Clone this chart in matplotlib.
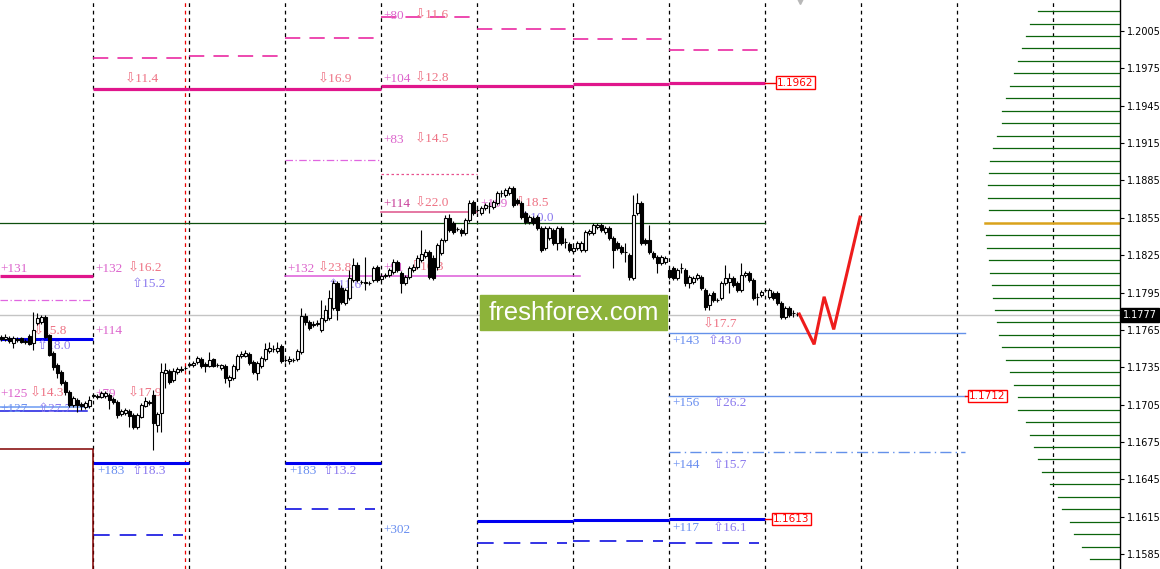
# -*- coding: utf-8 -*-

"""
EURUSD H1 : daily levels, volume profile and a short forecast
"""

#######################################
#               IMPORTS               #
#######################################

import numpy as np
import matplotlib
matplotlib.use('Agg')
import matplotlib.pyplot as plt
from matplotlib.patches import Rectangle

#######################################
#              CONSTANTS              #
#######################################

OUT_FILE = 'out.png'

BARS_PER_DAY = 24
FIRST_DAY_BAR = 23          # bar that opens day 1
N_DAYS = 11
X_MIN, X_MAX = -0.33, 279.67
Y_MIN, Y_MAX = 1.15730, 1.20299

# H1 candles, oldest first (day 0 is cut at the left edge)
OPENS = [
    1.17593, 1.17577, 1.17585, 1.17545, 1.17577, 1.17585, 1.17561, 1.17601, 1.17545, 1.17705, 1.17713, 1.17753,
    1.17609, 1.17464, 1.17368, 1.17312, 1.17231, 1.17151, 1.17047, 1.17087, 1.17055, 1.17031, 1.17039,
    1.17119, 1.17119, 1.17111, 1.17119, 1.17127, 1.17095, 1.17071, 1.16974, 1.16982, 1.16998, 1.16966, 1.16870,
    1.16950, 1.17039, 1.17071, 1.17127, 1.16886, 1.16982, 1.17304, 1.17320, 1.17247, 1.17312, 1.17336, 1.17344,
    1.17368, 1.17368, 1.17392, 1.17416, 1.17376, 1.17360, 1.17416, 1.17368, 1.17344, 1.17360, 1.17247, 1.17263,
    1.17336, 1.17440, 1.17440, 1.17456, 1.17392, 1.17304, 1.17360, 1.17416, 1.17480, 1.17496, 1.17480, 1.17521,
    1.17408, 1.17400, 1.17408, 1.17416, 1.17472, 1.17761, 1.17713, 1.17689, 1.17697, 1.17649, 1.17729, 1.17745,
    1.17825, 1.18026, 1.17986, 1.17866, 1.17906, 1.18050, 1.18171, 1.18034, 1.18026, 1.18026, 1.18050, 1.18155,
    1.18058, 1.18082, 1.18090, 1.18115, 1.18195, 1.18106, 1.18026, 1.18074, 1.18131, 1.18155, 1.18211, 1.18243,
    1.18275, 1.18227, 1.18155, 1.18267, 1.18372, 1.18548, 1.18508, 1.18460, 1.18452, 1.18428, 1.18532, 1.18677,
    1.18612, 1.18588, 1.18628, 1.18644, 1.18636, 1.18669, 1.18749, 1.18733, 1.18749, 1.18789, 1.18693, 1.18669,
    1.18588, 1.18516, 1.18548, 1.18556, 1.18468, 1.18307, 1.18388, 1.18452, 1.18348, 1.18468, 1.18356, 1.18340,
    1.18283, 1.18307, 1.18291, 1.18291, 1.18428, 1.18428, 1.18476, 1.18492, 1.18436, 1.18468, 1.18388, 1.18348,
    1.18315, 1.18275, 1.18251, 1.18066, 1.18588, 1.18669, 1.18372, 1.18372, 1.18267, 1.18235, 1.18187, 1.18195,
    1.18131, 1.18147, 1.18066, 1.18147, 1.18131, 1.18026, 1.18034, 1.18066, 1.18074, 1.17970, 1.17850, 1.17946,
    1.17890, 1.17906, 1.18026, 1.18034, 1.18066, 1.18026, 1.17970, 1.18090, 1.18106, 1.18050, 1.17914, 1.17930,
    1.17970, 1.17914, 1.17946, 1.17946, 1.17866, 1.17753, 1.17825, 1.17785, 1.17777,
]
HIGHS = [
    1.17609, 1.17617, 1.17601, 1.17601, 1.17593, 1.17593, 1.17577, 1.17617, 1.17793, 1.17785, 1.17769, 1.17769,
    1.17617, 1.17480, 1.17384, 1.17328, 1.17247, 1.17167, 1.17119, 1.17103, 1.17071, 1.17079, 1.17119,
    1.17135, 1.17135, 1.17159, 1.17159, 1.17143, 1.17111, 1.17087, 1.17014, 1.17022, 1.17014, 1.16982, 1.16982,
    1.17063, 1.17111, 1.17087, 1.17167, 1.16990, 1.17384, 1.17384, 1.17336, 1.17344, 1.17352, 1.17360, 1.17360,
    1.17392, 1.17400, 1.17440, 1.17432, 1.17392, 1.17472, 1.17424, 1.17384, 1.17376, 1.17376, 1.17288, 1.17376,
    1.17456, 1.17480, 1.17488, 1.17472, 1.17408, 1.17400, 1.17440, 1.17545, 1.17553, 1.17529, 1.17553, 1.17537,
    1.17432, 1.17440, 1.17424, 1.17496, 1.17825, 1.17785, 1.17729, 1.17721, 1.17729, 1.17890, 1.17850, 1.17970,
    1.18050, 1.18042, 1.18010, 1.17986, 1.18131, 1.18227, 1.18195, 1.18050, 1.18235, 1.18042, 1.18163, 1.18171,
    1.18098, 1.18106, 1.18147, 1.18219, 1.18211, 1.18123, 1.18090, 1.18163, 1.18179, 1.18251, 1.18452, 1.18299,
    1.18291, 1.18251, 1.18348, 1.18388, 1.18572, 1.18580, 1.18524, 1.18476, 1.18468, 1.18548, 1.18693, 1.18693,
    1.18636, 1.18644, 1.18669, 1.18677, 1.18693, 1.18765, 1.18773, 1.18789, 1.18805, 1.18805, 1.18709, 1.18685,
    1.18604, 1.18572, 1.18564, 1.18572, 1.18484, 1.18484, 1.18484, 1.18468, 1.18484, 1.18484, 1.18388, 1.18356,
    1.18323, 1.18364, 1.18364, 1.18452, 1.18460, 1.18508, 1.18508, 1.18508, 1.18484, 1.18484, 1.18404, 1.18364,
    1.18332, 1.18348, 1.18267, 1.18733, 1.18749, 1.18685, 1.18388, 1.18492, 1.18283, 1.18251, 1.18251, 1.18243,
    1.18147, 1.18163, 1.18147, 1.18187, 1.18147, 1.18090, 1.18082, 1.18106, 1.18090, 1.17986, 1.17946, 1.17962,
    1.17906, 1.18042, 1.18171, 1.18106, 1.18082, 1.18042, 1.18187, 1.18123, 1.18123, 1.18066, 1.17946, 1.17970,
    1.17986, 1.17986, 1.17962, 1.17962, 1.17882, 1.17842, 1.17842, 1.17809, 1.17793,
]
LOWS = [
    1.17561, 1.17561, 1.17545, 1.17505, 1.17553, 1.17545, 1.17537, 1.17529, 1.17488, 1.17689, 1.17697, 1.17585,
    1.17440, 1.17328, 1.17263, 1.17207, 1.17127, 1.17031, 1.17031, 1.16990, 1.17006, 1.17014, 1.17022,
    1.17103, 1.17095, 1.17103, 1.17103, 1.17014, 1.17055, 1.16942, 1.16958, 1.16966, 1.16870, 1.16854, 1.16854,
    1.16942, 1.17031, 1.17047, 1.16685, 1.16830, 1.16830, 1.17183, 1.17215, 1.17231, 1.17296, 1.17312, 1.17328,
    1.17352, 1.17352, 1.17376, 1.17344, 1.17312, 1.17352, 1.17352, 1.17352, 1.17328, 1.17223, 1.17191, 1.17247,
    1.17320, 1.17424, 1.17432, 1.17368, 1.17296, 1.17247, 1.17344, 1.17400, 1.17464, 1.17472, 1.17464, 1.17384,
    1.17392, 1.17376, 1.17392, 1.17400, 1.17456, 1.17689, 1.17649, 1.17673, 1.17681, 1.17633, 1.17713, 1.17729,
    1.17809, 1.17729, 1.17858, 1.17850, 1.17890, 1.18034, 1.18034, 1.18018, 1.17970, 1.18010, 1.18034, 1.18034,
    1.18042, 1.18066, 1.18074, 1.18098, 1.18115, 1.17946, 1.18010, 1.18058, 1.18115, 1.18139, 1.18195, 1.18227,
    1.18058, 1.18050, 1.18131, 1.18251, 1.18356, 1.18436, 1.18420, 1.18444, 1.18404, 1.18412, 1.18516, 1.18572,
    1.18596, 1.18572, 1.18612, 1.18588, 1.18620, 1.18652, 1.18717, 1.18717, 1.18733, 1.18636, 1.18652, 1.18540,
    1.18500, 1.18500, 1.18492, 1.18452, 1.18275, 1.18291, 1.18372, 1.18332, 1.18291, 1.18332, 1.18307, 1.18275,
    1.18267, 1.18291, 1.18275, 1.18275, 1.18412, 1.18412, 1.18460, 1.18436, 1.18420, 1.18372, 1.18147, 1.18291,
    1.18259, 1.18195, 1.18050, 1.18050, 1.18572, 1.18332, 1.18332, 1.18259, 1.18219, 1.18106, 1.18171, 1.18179,
    1.18058, 1.18050, 1.18050, 1.18106, 1.18002, 1.17986, 1.18018, 1.18050, 1.17970, 1.17809, 1.17809, 1.17874,
    1.17874, 1.17890, 1.18010, 1.17946, 1.17994, 1.17954, 1.17954, 1.18074, 1.18034, 1.17890, 1.17850, 1.17914,
    1.17954, 1.17898, 1.17890, 1.17850, 1.17737, 1.17737, 1.17753, 1.17753, 1.17761,
]
CLOSES = [
    1.17577, 1.17593, 1.17561, 1.17585, 1.17569, 1.17553, 1.17553, 1.17537, 1.17649, 1.17745, 1.17753, 1.17593,
    1.17448, 1.17352, 1.17304, 1.17223, 1.17151, 1.17047, 1.17103, 1.17047, 1.17039, 1.17063, 1.17087,
    1.17127, 1.17111, 1.17143, 1.17143, 1.17087, 1.17071, 1.16966, 1.16998, 1.17006, 1.16958, 1.16870, 1.16966,
    1.17047, 1.17079, 1.17063, 1.16902, 1.16974, 1.17312, 1.17328, 1.17231, 1.17320, 1.17336, 1.17328, 1.17344,
    1.17376, 1.17384, 1.17424, 1.17360, 1.17360, 1.17408, 1.17360, 1.17368, 1.17368, 1.17263, 1.17271, 1.17360,
    1.17440, 1.17456, 1.17464, 1.17384, 1.17312, 1.17384, 1.17424, 1.17496, 1.17505, 1.17496, 1.17505, 1.17400,
    1.17408, 1.17416, 1.17408, 1.17480, 1.17761, 1.17713, 1.17665, 1.17697, 1.17705, 1.17745, 1.17809, 1.17906,
    1.18026, 1.17809, 1.17874, 1.17970, 1.18066, 1.18171, 1.18050, 1.18034, 1.18034, 1.18026, 1.18147, 1.18050,
    1.18082, 1.18090, 1.18131, 1.18195, 1.18131, 1.18026, 1.18074, 1.18147, 1.18155, 1.18227, 1.18259, 1.18275,
    1.18074, 1.18066, 1.18332, 1.18372, 1.18548, 1.18452, 1.18436, 1.18460, 1.18428, 1.18532, 1.18669, 1.18588,
    1.18612, 1.18628, 1.18652, 1.18644, 1.18677, 1.18749, 1.18749, 1.18773, 1.18789, 1.18652, 1.18669, 1.18556,
    1.18516, 1.18556, 1.18508, 1.18468, 1.18291, 1.18468, 1.18468, 1.18348, 1.18468, 1.18348, 1.18356, 1.18291,
    1.18307, 1.18348, 1.18348, 1.18436, 1.18444, 1.18492, 1.18492, 1.18452, 1.18468, 1.18388, 1.18291, 1.18307,
    1.18275, 1.18275, 1.18074, 1.18572, 1.18669, 1.18348, 1.18348, 1.18275, 1.18235, 1.18187, 1.18235, 1.18227,
    1.18074, 1.18066, 1.18131, 1.18147, 1.18026, 1.18074, 1.18066, 1.18090, 1.17986, 1.17834, 1.17930, 1.17890,
    1.17890, 1.18026, 1.18066, 1.18066, 1.18010, 1.17970, 1.18090, 1.18106, 1.18050, 1.17906, 1.17914, 1.17954,
    1.17970, 1.17970, 1.17906, 1.17866, 1.17753, 1.17825, 1.17769, 1.17785, 1.17777,
]
LAST_PRICE = 1.1777

# forecast zigzag drawn after the last candle
FORECAST_BARS = [199.5, 203.2, 205.7, 208.1, 214.7]
FORECAST_PRICES = [1.17777, 1.17534, 1.17916, 1.17654, 1.18556]

# daily levels : day index -> price
MAIN_DAYS = [0, 1, 2, 3, 4, 5, 6, 7]
MAIN_LEVEL = [1.18083, 1.19584, 1.19584, 1.19584, 1.19611, 1.19611, 1.19624, 1.19635]
UPPER_DAYS = [1, 2, 3, 4, 5, 6, 7]
UPPER_LEVEL = [1.19831, 1.19847, 1.19991, 1.20162, 1.20066, 1.19983, 1.19895]
SUPPORT_DAYS = [0, 1, 3, 5, 6, 7]
SUPPORT_LEVEL = [1.17577, 1.16581, 1.16581, 1.16115, 1.16123, 1.16130]
LOWER_DAYS = [1, 3, 5, 6, 7]
LOWER_LEVEL = [1.16003, 1.16212, 1.15935, 1.15955, 1.15937]

# single levels : (first bar, last bar, price)
PIVOT_LINE = (-0.33, 191, 1.18506)
WEEK_DASHDOT = [(-0.33, 23, 1.17890), (71, 95, 1.19012)]
WEEK_DOTTED = (95, 119, 1.18902)
VIOLET_LINE = (71, 144.7, 1.18080)
PINK_LINE = (95, 119, 1.18594)
OLD_BLUE = [(-0.33, 22, 1.17031), (-0.33, 21.5, 1.16996)]
DARK_RED_LEVEL = 1.16694
TARGET_LINES = [1.17625, 1.17120]
TARGET_DASHDOT = 1.16667

# price tags at the right end of some levels
TAGS = ['1.1962', '1.1712', '1.1613']
TAG_PRICES = [1.19635, 1.17120, 1.16130]
TAG_FROM = [191, 240.9, 191]
TAG_BARS = [193.7, 241.7, 192.7]

# volume profile
VP_PRICES = [
    1.2021, 1.2011, 1.2001, 1.1991, 1.1981, 1.1971, 1.1961, 1.1951, 1.1941, 1.1931, 1.1921, 1.1911,
    1.1901, 1.1891, 1.1881, 1.1871, 1.1861, 1.1851, 1.1841, 1.1831, 1.1821, 1.1811, 1.1801, 1.1791,
    1.1781, 1.1771, 1.1761, 1.1751, 1.1741, 1.1731, 1.1721, 1.1711, 1.1701, 1.1691, 1.1681, 1.1671,
    1.1661, 1.1651, 1.1641, 1.1631, 1.1621, 1.1611, 1.1601, 1.1591, 1.1581,
]
VP_VOLUME = [
    82, 90, 94, 98, 102, 106, 110, 114, 118, 118, 123, 127,
    130, 131, 132, 132, 131, 135, 134, 133, 131, 130, 128, 127,
    125, 123, 121, 118, 114, 110, 106, 102, 102, 94, 90, 86,
    82, 78, 70, 62, 58, 50, 46, 38, 30,
]
VP_POC = 1.1851

PRICE_TICKS = [1.2005, 1.1975, 1.1945, 1.1915, 1.1885, 1.1855, 1.1825, 1.1795,
               1.1765, 1.1735, 1.1705, 1.1675, 1.1645, 1.1615, 1.1585]

NUM_PINK = '#dc64cc'
NUM_BLUE = '#6a8ff0'
DOWN_COL = '#ee7284'
UP_COL = '#8a78ee'

# level labels : (bar, price, text, colour)
LABELS = [
    (-0.3, 1.18139, '+131', NUM_PINK),
    (7.9, 1.17633, '\u21e915.8', DOWN_COL),
    (8.9, 1.17521, '\u21e718.0', UP_COL),
    (-0.3, 1.17135, '+125', NUM_PINK),
    (7.2, 1.17135, '\u21e914.3', DOWN_COL),
    (-0.3, 1.17015, '+127', NUM_BLUE),
    (9.2, 1.17015, '\u21e727.7', UP_COL),
    (30.9, 1.19657, '\u21e911.4', DOWN_COL),
    (23.4, 1.18139, '+132', NUM_PINK),
    (31.7, 1.18139, '\u21e916.2', DOWN_COL),
    (32.7, 1.18018, '\u21e715.2', UP_COL),
    (23.4, 1.17641, '+114', NUM_PINK),
    (23.4, 1.17135, '+79', NUM_PINK),
    (31.7, 1.17135, '\u21e917.9', DOWN_COL),
    (23.9, 1.16517, '+183', NUM_BLUE),
    (32.7, 1.16517, '\u21e718.3', UP_COL),
    (79.2, 1.19657, '\u21e916.9', DOWN_COL),
    (71.4, 1.18139, '+132', NUM_PINK),
    (79.2, 1.18139, '\u21e923.8', DOWN_COL),
    (81.7, 1.18010, '\u21e711.6', UP_COL),
    (71.9, 1.16517, '+183', NUM_BLUE),
    (80.4, 1.16517, '\u21e713.2', UP_COL),
    (95.4, 1.20171, '+80', NUM_PINK),
    (103.4, 1.20171, '\u21e911.6', DOWN_COL),
    (95.4, 1.19665, '+104', NUM_PINK),
    (103.4, 1.19665, '\u21e912.8', DOWN_COL),
    (95.4, 1.19175, '+83', NUM_PINK),
    (103.4, 1.19175, '\u21e914.5', DOWN_COL),
    (95.4, 1.18661, '+114', '#c8409a'),
    (103.4, 1.18661, '\u21e922.0', DOWN_COL),
    (95.4, 1.18147, '+91', NUM_PINK),
    (102.2, 1.18147, '\u21e910.3', DOWN_COL),
    (95.4, 1.16043, '+302', NUM_BLUE),
    (119.7, 1.18661, '+109', NUM_PINK),
    (128.4, 1.18661, '\u21e918.5', DOWN_COL),
    (129.7, 1.18548, '\u21e710.0', UP_COL),
    (175.4, 1.17689, '\u21e917.7', DOWN_COL),
    (167.7, 1.17561, '+143', NUM_BLUE),
    (176.7, 1.17561, '\u21e743.0', UP_COL),
    (167.7, 1.17063, '+156', NUM_BLUE),
    (177.9, 1.17063, '\u21e726.2', UP_COL),
    (167.7, 1.16565, '+144', NUM_BLUE),
    (177.9, 1.16565, '\u21e715.7', UP_COL),
    (167.7, 1.16059, '+117', NUM_BLUE),
    (177.9, 1.16059, '\u21e716.1', UP_COL),
]


#######################################
#              FUNCTIONS              #
#######################################

def day_span(day):
    """first and last bar of a trading day"""
    if day == 0:
        return X_MIN, FIRST_DAY_BAR
    start = FIRST_DAY_BAR + BARS_PER_DAY * (day - 1)
    return start, start + BARS_PER_DAY


def draw_daily(ax, days, prices, shorten=0.0, **style):
    for d, p in zip(days, prices):
        x0, x1 = day_span(d)
        ax.plot([x0, x1 - shorten], [p, p], **style)


def draw_candles(ax):
    o = np.array(OPENS)
    c = np.array(CLOSES)
    x = np.arange(len(c))
    up = c >= o
    ax.vlines(x, LOWS, HIGHS, color='black', lw=0.8, zorder=5)
    ax.bar(x[up], (c - o)[up], bottom=o[up], width=0.7, color='white',
           edgecolor='black', lw=0.8, zorder=6)
    ax.bar(x[~up], (o - c)[~up], bottom=c[~up], width=0.7, color='black',
           edgecolor='black', lw=0.8, zorder=6)


#######################################
#                 MAIN                #
#######################################

def main():
    fig = plt.figure(figsize=(11.6, 5.69), dpi=100)
    ax = fig.add_axes([0, 0, 1120 / 1160, 1])
    ax.set_xlim(X_MIN, X_MAX)
    ax.set_ylim(Y_MIN, Y_MAX)

    # day separators
    for d in range(1, N_DAYS + 1):
        ax.axvline(day_span(d)[0], color='black', lw=0.9, ls=(0, (3, 3)), zorder=1)
    ax.axvline(FIRST_DAY_BAR + BARS_PER_DAY - 1, color='#ee0000', lw=0.9,
               ls=(0, (3, 3)), zorder=1)

    # volume profile
    scale = 0.25
    for p, v in zip(VP_PRICES, VP_VOLUME):
        if p == VP_POC:
            ax.plot([X_MAX - v * scale, X_MAX], [p, p], color='#d9a21b', lw=1.8, zorder=2)
        else:
            ax.plot([X_MAX - v * scale, X_MAX], [p, p], color='#0b640b', lw=0.9, zorder=2)

    # horizontal levels
    ax.axhline(LAST_PRICE, color='#c4c4c4', lw=1, zorder=2)
    x0, x1, p = PIVOT_LINE
    ax.plot([x0, x1], [p, p], color='#0d4f0d', lw=0.9, zorder=2)

    draw_daily(ax, MAIN_DAYS, MAIN_LEVEL, color='#e0168c', lw=2.3, zorder=3,
               solid_capstyle='butt')
    draw_daily(ax, UPPER_DAYS, UPPER_LEVEL, shorten=1.5, color='#e8189a', lw=1.1,
               ls=(0, (10, 6)), zorder=3)
    draw_daily(ax, SUPPORT_DAYS, SUPPORT_LEVEL, color='#0000f0', lw=2.2, zorder=3,
               solid_capstyle='butt')
    draw_daily(ax, LOWER_DAYS, LOWER_LEVEL, shorten=1.5, color='#1010e0', lw=1.2,
               ls=(0, (10, 6)), zorder=3)

    for x0, x1, p in WEEK_DASHDOT:
        ax.plot([x0, x1], [p, p], color='#e066e0', lw=0.9, ls=(0, (6, 2, 1, 2)), zorder=3)
    x0, x1, p = WEEK_DOTTED
    ax.plot([x0, x1], [p, p], color='#e8508e', lw=0.9, ls=(0, (2, 2)), zorder=3)
    x0, x1, p = VIOLET_LINE
    ax.plot([x0, x1], [p, p], color='#dd5ad8', lw=1.1, zorder=3)
    x0, x1, p = PINK_LINE
    ax.plot([x0, x1], [p, p], color='#e06092', lw=1.2, zorder=3)
    ax.plot([OLD_BLUE[0][0], OLD_BLUE[0][1]], [OLD_BLUE[0][2]] * 2, color='#6b9af2', lw=1.1, zorder=3)
    ax.plot([OLD_BLUE[1][0], OLD_BLUE[1][1]], [OLD_BLUE[1][2]] * 2, color='#1a1ae0', lw=1.1, zorder=3)
    ax.plot([X_MIN, FIRST_DAY_BAR, FIRST_DAY_BAR], [DARK_RED_LEVEL, DARK_RED_LEVEL, Y_MIN],
            color='#800000', lw=1.1, zorder=3)

    d7_start = day_span(7)[0]
    for p in TARGET_LINES:
        ax.plot([d7_start, 240.9], [p, p], color='#6491ea', lw=1, zorder=3)
    ax.plot([d7_start, 240.9], [TARGET_DASHDOT] * 2, color='#6491ea', lw=1,
            ls=(0, (8, 3, 1, 3)), zorder=3)

    # price tags
    for txt, p, xf, xb in zip(TAGS, TAG_PRICES, TAG_FROM, TAG_BARS):
        ax.plot([xf, xb], [p, p], color='#ee0000', lw=1, zorder=3)
        ax.text(xb + 0.25, p, txt, color='#ff0000', fontsize=7.5, family='DejaVu Sans',
                va='center', ha='left', zorder=7,
                bbox=dict(boxstyle='square,pad=0.12', fc='white', ec='#ff0000', lw=1))

    # level labels (under the candles)
    for x, y, txt, col in LABELS:
        ax.text(x, y, txt, color=col, fontsize=9.5, va='center', ha='left', zorder=4,
                family=['Liberation Serif', 'DejaVu Sans'])

    draw_candles(ax)

    # forecast
    ax.plot(FORECAST_BARS, FORECAST_PRICES, color='#ee1c1c', lw=2.2, zorder=7,
            solid_joinstyle='miter')
    ax.plot([199.7], [1.2029], marker='v', color='#b8b8b8', ms=5, zorder=7)

    # price axis on the right
    for s in ['top', 'left', 'bottom']:
        ax.spines[s].set_visible(False)
    ax.spines['right'].set_linewidth(1)
    ax.set_xticks([])
    ax.yaxis.tick_right()
    ax.set_yticks(PRICE_TICKS)
    ax.set_yticklabels([f'{t:.4f}' for t in PRICE_TICKS], fontsize=7, family='DejaVu Sans')
    ax.tick_params(axis='y', direction='out', length=3, width=0.8, pad=2)
    ax.text(1.003, LAST_PRICE, f'{LAST_PRICE:.4f}', transform=ax.get_yaxis_transform(),
            color='white', fontsize=7, family='DejaVu Sans', va='center', ha='left',
            bbox=dict(boxstyle='square,pad=0.2', fc='black', ec='black'), zorder=8,
            clip_on=False)

    # watermark
    fig.patches.append(Rectangle((480 / 1160, (569 - 330) / 569), 187 / 1160, 35 / 569,
                                 transform=fig.transFigure, color='#8db33a', zorder=10))
    fig.text((480 + 667) / 2 / 1160, 1 - 312.5 / 569, 'freshforex.com', color='white',
             fontsize=18.5, family='Liberation Sans', ha='center', va='center', zorder=11)

    fig.savefig(OUT_FILE, dpi=100)


if __name__ == "__main__":
    main()
